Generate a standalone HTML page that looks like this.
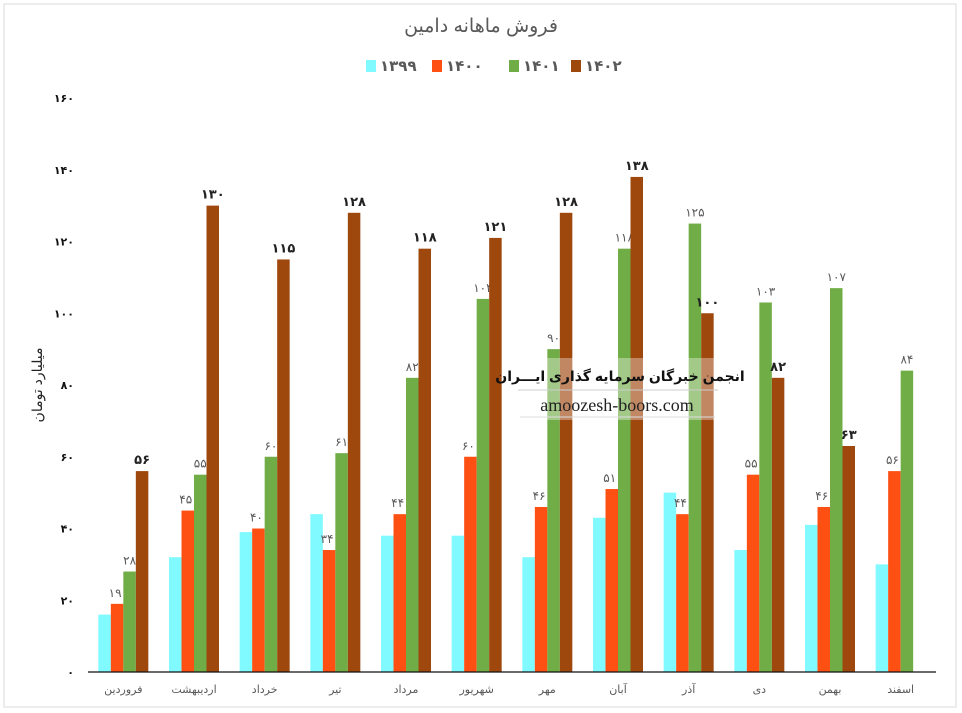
<!DOCTYPE html>
<html><head><meta charset="utf-8"><style>
body{margin:0;background:#fff;}
#wrap{position:relative;width:962px;height:713px;overflow:hidden;font-family:"Liberation Sans","Noto Sans CJK SC",sans-serif;}
svg text{font-family:"Liberation Sans","DejaVu Sans",sans-serif;}
</style></head><body>
<div id="wrap">
<svg id="chart" width="962" height="713">
<rect x="4" y="4" width="952" height="703" fill="#fff" stroke="#d9d9d9"/>
<text x="481" y="32" text-anchor="middle" font-size="19" fill="#595959">فروش ماهانه دامین</text>
<text transform="translate(42,385) rotate(-90)" text-anchor="middle" font-size="14" fill="#222">میلیارد تومان</text>
<g id="watermark">
<rect x="515" y="358" width="205" height="62" fill="#fff" opacity="0.35"/>
<text x="620" y="381" text-anchor="middle" font-size="14" font-weight="bold" fill="#111">انجمن خبرگان سرمایه گذاری ایـــران</text>
<line x1="518" y1="390" x2="718" y2="390" stroke="#ccc"/>
<text x="617" y="411" text-anchor="middle" font-size="18" fill="#222" style="font-family:'Liberation Serif',serif">amoozesh-boors.com</text>
<line x1="520" y1="417" x2="715" y2="417" stroke="#ddd"/>
</g>
</svg>
</div>
<script>
const categories=["فروردین","اردیبهشت","خرداد","تیر","مرداد","شهریور","مهر","آبان","آذر","دی","بهمن","اسفند"];
const seriesNames=["1399","1400","1401","1402"];
const s1399=[16,32,39,44,38,38,32,43,50,34,41,30];
const s1400=[19,45,40,34,44,60,46,51,44,55,46,56];
const s1401=[28,55,60,61,82,104,90,118,125,103,107,84];
const s1402=[56,130,115,128,118,121,128,138,100,82,63,null];
const yTicks=[0,20,40,60,80,100,120,140,160];
const colors=["#80FAFF","#FF5014","#70AD47","#9E480E"];
const NS="http://www.w3.org/2000/svg";
const svg=document.getElementById('chart');
const fa=n=>String(n).replace(/\d/g,d=>"۰۱۲۳۴۵۶۷۸۹"[d]);
const X0=88,X1=936,Y0=672,Ymax=160,Ytop=98;
const y=v=>Y0-(v/Ymax)*(Y0-Ytop);
const gw=(X1-X0)/categories.length;
const bw=12.5;
const xc=i=>X0+gw*(i+0.5);
function mk(t,a){const e=document.createElementNS(NS,t);for(const k in a)e.setAttribute(k,a[k]);svg.insertBefore(e,document.getElementById('watermark'));return e;}
yTicks.forEach(v=>{const t=mk('text',{x:74,y:y(v)+4,'text-anchor':'end','font-size':11,'font-weight':'bold',fill:'#111'});t.textContent=fa(v);

});
const all=[s1399,s1400,s1401,s1402];
all.forEach((s,si)=>{s.forEach((v,i)=>{if(v==null)return;
const x=xc(i)-2*bw+si*bw;
const r=mk('rect',{x:x,y:y(v),width:bw,height:Y0-y(v),fill:colors[si]});


if(si>0){const t=mk('text',{x:x+bw/2+(si==1?-2:0),y:y(v)-7,'text-anchor':'middle','font-size':si==3?13:12,'font-weight':si==3?'bold':'normal',fill:si==3?'#222':'#595959'});t.textContent=fa(v);

}
});});
const ax=mk('line',{x1:X0,y1:Y0,x2:X1,y2:Y0,stroke:'#111','stroke-width':1.3});


categories.forEach((c,i)=>{const t=mk('text',{x:xc(i),y:693,'text-anchor':'middle','font-size':11,fill:'#595959'});t.textContent=c;

});
const lx=[366,432,509,571];
seriesNames.forEach((n,i)=>{const r=mk('rect',{x:lx[i],y:60,width:10,height:12,fill:colors[i]});


const t=mk('text',{x:lx[i]+14,y:71,'font-size':15,'font-weight':'bold',fill:'#595959'});t.textContent=fa(n);

});
</script>
</body></html>
